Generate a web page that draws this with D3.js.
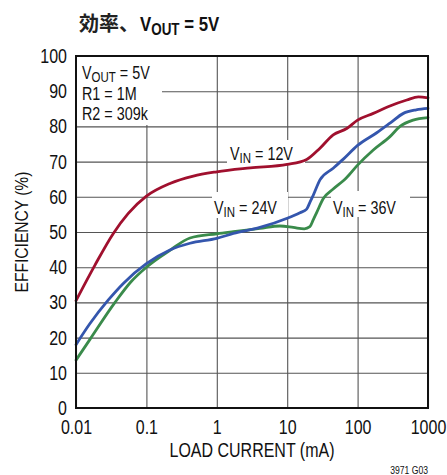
<!DOCTYPE html>
<html><head><meta charset="utf-8">
<script src="https://cdn.jsdelivr.net/npm/d3@7"></script>
<style>body{margin:0;background:#fff}</style>
</head><body>
<svg id="c" width="447" height="475"></svg>
<script>
// ---- data ----
const xTicks = [0.01, 0.1, 1, 10, 100, 1000];
const xTickLabels = ["0.01", "0.1", "1", "10", "100", "1000"];
const yTicks = [0, 10, 20, 30, 40, 50, 60, 70, 80, 90, 100];

const current12 = [0.01, 0.0186, 0.0339, 0.0553, 0.1, 0.216, 0.464, 1, 3, 10, 18.9, 29.2, 45, 70, 100, 167, 288, 500, 730, 1000];
const eff12     = [30.5, 40.6, 49.6, 55.3, 60.2, 63.8, 65.9, 67.1, 68.2, 69.2, 70.6, 73.8, 77.6, 79.4, 81.8, 83.7, 85.8, 87.5, 88.4, 88.1];

const current24 = [0.01, 0.0158, 0.0288, 0.047, 0.1, 0.216, 0.416, 1, 1.72, 4.1, 10, 15.2, 18.9, 21.1, 23.5, 29.2, 45, 62.7, 100, 187, 288, 447, 680, 1000];
const eff24     = [18, 24, 30.7, 35.4, 41, 44.9, 46.8, 48.2, 49.6, 51.3, 53.9, 55.5, 56.5, 58.5, 60.5, 64.8, 68.1, 70.7, 74.6, 78.2, 80.9, 83.7, 84.7, 85.1];

const current36 = [0.01, 0.0158, 0.0358, 0.06, 0.1, 0.216, 0.416, 1, 1.72, 4.1, 7.9, 12.2, 17.5, 21, 23.5, 26.2, 32.6, 45, 62, 70, 100, 167, 288, 400, 615, 1000];
const eff36     = [13.6, 19.5, 30, 35.8, 40, 44.8, 48.3, 49.5, 50.1, 51, 51.7, 51.3, 50.9, 51.5, 53.5, 55.5, 59.5, 62.2, 64.5, 65.5, 69, 73.3, 77.1, 80, 81.8, 82.5];

const seriesNames = ["12V", "24V", "36V"];
const seriesColors = ["#a0102e", "#3456ad", "#3a8b4b"];

// ---- font setup ----
function hasFont(name) {
  const c = document.createElement('canvas').getContext('2d');
  const s = 'abcdefgWWMil0.1 LOAD';
  c.font = '40px monospace'; const a = c.measureText(s).width;
  c.font = `40px "${name}", monospace`; const b = c.measureText(s).width;
  return Math.abs(a - b) > 0.5;
}
const narrow = hasFont("Liberation Sans Narrow");
const FAM = narrow ? '"Liberation Sans Narrow", "Liberation Sans", Arial, sans-serif' : '"Liberation Sans", Arial, sans-serif';
const SX = narrow ? 1 : 0.82;

// ---- layout ----
const svg = d3.select("#c");
const L = 76, R = 428, T = 56, B = 408;
const x = d3.scaleLog().domain([0.01, 1000]).range([L, R]);
const y = d3.scaleLinear().domain([0, 100]).range([B, T]);

// grid via axes
const gx = svg.append("g").attr("transform", `translate(0,${T})`)
  .call(d3.axisBottom(x).tickValues(xTicks).tickSize(B - T).tickFormat(""));
gx.select(".domain").remove();
gx.selectAll("line").attr("stroke", "#555").attr("stroke-width", 1.1);
const gy = svg.append("g").attr("transform", `translate(${L},0)`)
  .call(d3.axisRight(y).tickValues(yTicks).tickSize(R - L).tickFormat(""));
gy.select(".domain").remove();
gy.selectAll("line").attr("stroke", "#555").attr("stroke-width", 1.1);

// white label boxes
const boxes = [[77, 57, 85, 68], [227, 140, 78, 23], [212, 192, 76, 26], [331, 191, 79, 26]];
svg.selectAll("rect.bx").data(boxes).enter().append("rect")
  .attr("x", d => d[0]).attr("y", d => d[1]).attr("width", d => d[2]).attr("height", d => d[3])
  .attr("fill", "#fff");

// curves
const series = [
  current12.map((c, i) => [c, eff12[i]]),
  current24.map((c, i) => [c, eff24[i]]),
  current36.map((c, i) => [c, eff36[i]])
];
const line = d3.line().x(d => x(d[0])).y(d => y(d[1])).curve(d3.curveMonotoneX);
svg.selectAll("path.s").data([2, 1, 0]).enter().append("path")
  .attr("d", i => line(series[i])).attr("fill", "none")
  .attr("stroke", i => seriesColors[i]).attr("stroke-width", 2.8)
  .attr("stroke-linejoin", "round").attr("stroke-linecap", "round");

// frame
svg.append("rect").attr("x", L).attr("y", T).attr("width", R - L).attr("height", B - T)
  .attr("fill", "none").attr("stroke", "#111").attr("stroke-width", 2);

// tick labels through axes
const ax = svg.append("g").attr("transform", `translate(0,${B})`)
  .call(d3.axisBottom(x).tickValues(xTicks).tickSize(0).tickPadding(0)
    .tickFormat((d, i) => xTickLabels[i]));
ax.select(".domain").remove();
ax.selectAll("text").attr("y", null).attr("dy", null)
  .attr("transform", `translate(0,25.5) scale(${SX},1)`)
  .style("font-family", FAM).style("font-size", "19.5px").attr("fill", "#111");

const ay = svg.append("g").attr("transform", `translate(${L},0)`)
  .call(d3.axisLeft(y).tickValues(yTicks).tickSize(0).tickPadding(0));
ay.select(".domain").remove();
ay.selectAll("text").attr("x", null).attr("dy", null)
  .attr("transform", `translate(-9,6.5) scale(${SX},1)`)
  .style("font-family", FAM).style("font-size", "19.5px").attr("fill", "#111");

// text helper
function txt(xp, yp, size, anchor, weight, rot) {
  return svg.append("text")
    .attr("transform", `translate(${xp},${yp})${rot ? ` rotate(${rot})` : ""} scale(${SX},1)`)
    .attr("text-anchor", anchor || "start")
    .style("font-family", FAM).style("font-size", size + "px")
    .style("font-weight", weight || "normal").attr("fill", "#111");
}
function subLabel(xp, yp, size, main, sub, rest, weight) {
  const t = txt(xp, yp, size, "start", weight);
  t.append("tspan").text(main);
  t.append("tspan").attr("dy", size * 0.2).style("font-size", (size * 0.8) + "px").text(sub);
  t.append("tspan").attr("dy", -size * 0.2).text(rest);
  return t;
}

// axis titles
txt((L + R) / 2, 457, 19.5, "middle").text("LOAD CURRENT (mA)");
txt(28, (T + B) / 2, 19, "middle", "normal", -90).text("EFFICIENCY (%)");
txt(428, 474, 10.5, "end").text("3971 G03");

// title
svg.append("text").attr("x", 79).attr("y", 31)
  .style("font-family", '"Noto Sans CJK JP", sans-serif').style("font-size", "20px")
  .style("font-weight", "bold").attr("fill", "#222").text("効率、");
subLabel(140, 31, 20.5, "V", "OUT", " = 5V", "bold");

// inner labels
subLabel(82, 78.5, 17.5, "V", "OUT", " = 5V");
txt(82, 99.5, 17.5).text("R1 = 1M");
txt(82, 119.5, 17.5).text("R2 = 309k");

subLabel(230, 159.5, 17.5, "V", "IN", " = " + seriesNames[0]);
subLabel(214, 213.5, 17.5, "V", "IN", " = " + seriesNames[1]);
subLabel(333, 213.5, 17.5, "V", "IN", " = " + seriesNames[2]);
</script>
</body></html>
